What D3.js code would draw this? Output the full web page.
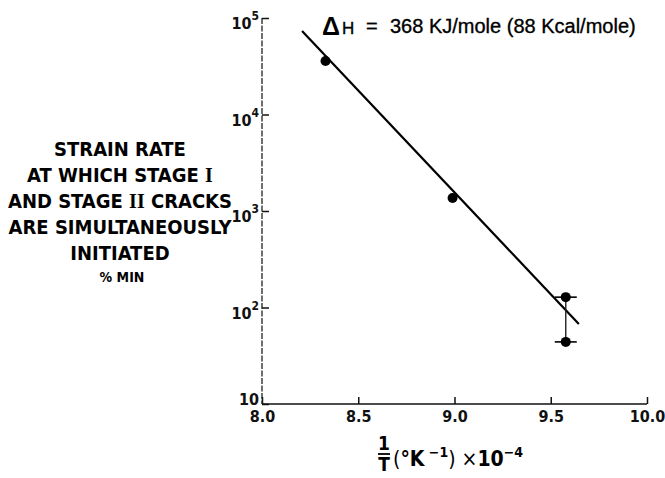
<!DOCTYPE html>
<html><head><meta charset="utf-8">
<script src="https://cdn.jsdelivr.net/npm/d3@7"></script>
<style>
body{margin:0;background:#fff;}
svg{display:block;}
.cond{font-family:"DejaVu Sans Condensed","DejaVu Sans",sans-serif;font-stretch:condensed;font-weight:bold;}
</style></head>
<body>
<svg id="chart" width="665" height="478"></svg>
<script>
// ---- data ----
const xTicks = [8.0, 8.5, 9.0, 9.5, 10.0];
const yTicks = [10, 100, 1000, 10000, 100000];
const yExponents = ["", "2", "3", "4", "5"];
const pointX = [8.33, 8.99, 9.578, 9.578];
const pointY = [35800, 1365, 128, 44];
const fitX = [8.208, 9.646];
const fitY = [73300, 67.5];
const errX = [9.578];
const errLow = [44];
const errHigh = [128];
const yLabelLines = ["STRAIN RATE", "AT WHICH STAGE I", "AND STAGE II CRACKS", "ARE SIMULTANEOUSLY", "INITIATED"];
const unitLabel = "% MIN";
const annotation = "368 KJ/mole (88 Kcal/mole)";

const svg = d3.select("#chart");
const x = d3.scaleLinear().domain([8, 10]).range([262, 647]);
const y = d3.scaleLog().domain([10, 100000]).range([404, 18]);

// axes
const xAxis = d3.axisBottom(x).tickValues(xTicks).tickSize(-7).tickPadding(7)
  .tickFormat(d3.format(".1f"));
const gx = svg.append("g").attr("transform", `translate(0,${y(10)})`).call(xAxis);
gx.select(".domain").attr("stroke", "#111").attr("stroke-width", 1.6).attr("d", `M${x(8)},0H${x(10)}`);
gx.selectAll(".tick line").attr("stroke", "#111").attr("stroke-width", 1.5);
gx.selectAll(".tick text").attr("class", "cond").attr("font-size", 16).attr("fill", "#111");

const yAxis = d3.axisLeft(y).tickValues(yTicks).tickSize(-7).tickFormat("");
const gy = svg.append("g").attr("transform", `translate(${x(8)},0)`).call(yAxis);
gy.select(".domain").attr("stroke", "#222").attr("stroke-width", 1.3).attr("stroke-dasharray", "6,1.5")
  .attr("d", `M0,${y(100000)}V${y(10)}`);
gy.selectAll(".tick line").attr("stroke", "#111").attr("stroke-width", 1.5);

// y tick labels with superscripts
yTicks.forEach((v, i) => {
  const t = svg.append("text").attr("class", "cond").attr("font-size", 16).attr("fill", "#111")
    .attr("text-anchor", "end").attr("x", x(8) - 3)
    .attr("y", y(v) + (yExponents[i] ? 11 : 1));
  t.append("tspan").text("10");
  if (yExponents[i]) t.append("tspan").attr("font-size", 12).attr("dy", -9).text(yExponents[i]);
});

// fitted line
svg.append("line")
  .attr("x1", x(fitX[0])).attr("y1", y(fitY[0]))
  .attr("x2", x(fitX[1])).attr("y2", y(fitY[1]))
  .attr("stroke", "#000").attr("stroke-width", 2.2);

// error bar
errX.forEach((ex, i) => {
  svg.append("line").attr("x1", x(ex)).attr("x2", x(ex))
    .attr("y1", y(errHigh[i]) - 4).attr("y2", y(errLow[i]))
    .attr("stroke", "#222").attr("stroke-width", 1.4);
  [errHigh[i], errLow[i]].forEach(v => {
    svg.append("line").attr("x1", x(ex) - 11).attr("x2", x(ex) + 11)
      .attr("y1", y(v)).attr("y2", y(v)).attr("stroke", "#000").attr("stroke-width", 1.6);
  });
});

// points
svg.selectAll("circle.pt").data(pointX.map((d, i) => [d, pointY[i]])).enter()
  .append("circle").attr("class", "pt")
  .attr("cx", d => x(d[0])).attr("cy", d => y(d[1])).attr("r", 5).attr("fill", "#000");

// annotation
const ann = svg.append("g").attr("fill", "#000").attr("stroke", "#000").attr("stroke-width", 0.35)
  .attr("font-family", "'Liberation Sans', Arial, sans-serif");
ann.append("text").attr("x", 322).attr("y", 35).attr("font-size", 25).attr("font-weight", "bold").attr("stroke-width", 0).text("\u0394");
ann.append("text").attr("x", 342).attr("y", 34).attr("font-size", 17).text("H");
ann.append("text").attr("x", 366).attr("y", 33).attr("font-size", 20).text("=");
ann.append("text").attr("x", 390).attr("y", 33).attr("font-size", 20).text(annotation);

// left y label
const ly = svg.append("text").attr("class", "cond").attr("font-size", 20).attr("fill", "#000")
  .attr("text-anchor", "middle");
const baselines = [156, 182, 208, 234, 260];
yLabelLines.forEach((line, i) => {
  const ts = ly.append("tspan").attr("x", 120).attr("y", baselines[i]);
  const m = line.match(/^(.*STAGE )(I+)(.*)$/);
  if (m) {
    ts.append("tspan").text(m[1]);
    ts.append("tspan").attr("font-family", "'Liberation Serif', serif").attr("font-weight", "bold").text(m[2]);
    ts.append("tspan").text(m[3]);
  } else ts.text(line);
});
svg.append("text").attr("class", "cond").attr("font-size", 14).attr("text-anchor", "middle")
  .attr("x", 122).attr("y", 282).text(unitLabel);

// x label
const xl = svg.append("g").attr("class", "cond").attr("fill", "#000");
xl.append("text").attr("x", 384).attr("y", 450).attr("font-size", 19).attr("text-anchor", "middle").text("1");
xl.append("line").attr("x1", 378).attr("x2", 390).attr("y1", 454).attr("y2", 454).attr("stroke", "#000").attr("stroke-width", 1.8);
xl.append("text").attr("x", 384).attr("y", 471).attr("font-size", 19).attr("text-anchor", "middle").text("T");
const xt = xl.append("text").attr("x", 393).attr("y", 466).attr("font-size", 21);
xt.append("tspan").attr("font-weight", "normal").text("(");
xt.append("tspan").text("\u00B0K");
xt.append("tspan").attr("font-size", 14).attr("dy", -9).text(" \u22121");
xt.append("tspan").attr("dy", 9).attr("font-weight", "normal").text(")");
xt.append("tspan").attr("font-weight", "normal").text(" \u00D7");
xt.append("tspan").text("10");
xt.append("tspan").attr("font-size", 14).attr("dy", -9).text("\u22124");
</script>
</body></html>
